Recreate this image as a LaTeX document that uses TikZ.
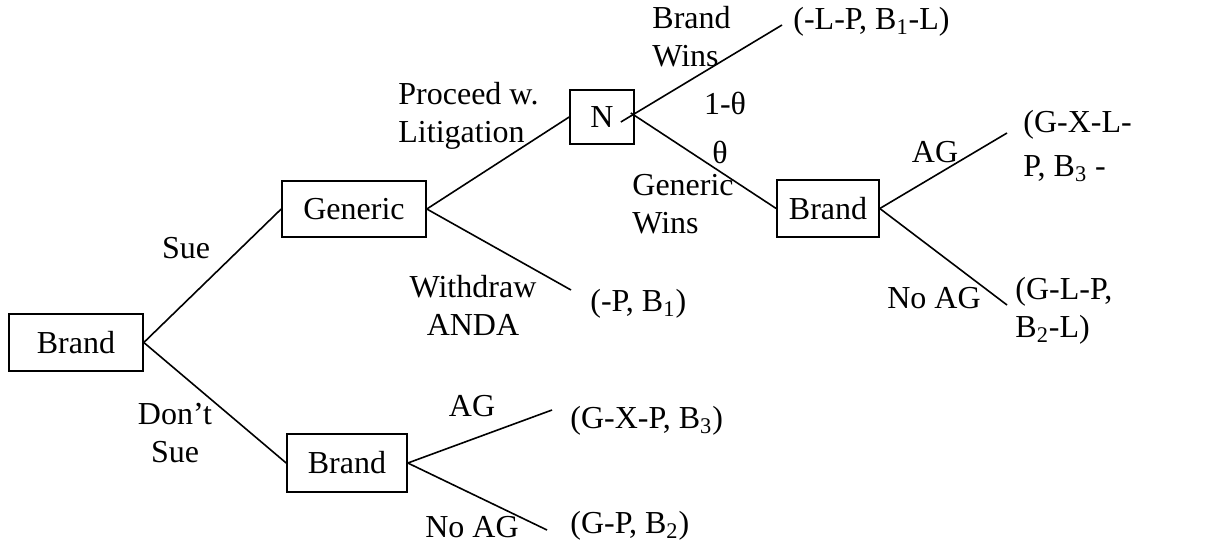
\documentclass[tikz,border=0pt]{standalone}
\usepackage{fontspec}
\setmainfont{Liberation Serif}
\usepackage{tikz}

\begin{document}
\begin{tikzpicture}[x=0.5pt,y=-0.5pt,
  every node/.style={font=\fontsize{16}{19}\selectfont},
  box/.style={draw, rectangle, thick, inner sep=0pt},
  lbl/.style={inner sep=0pt, align=center},
  pay/.style={inner sep=0pt, anchor=west, align=left}]
\useasboundingbox (0,0) rectangle (1218,552);
% decision boxes
\node[box, minimum width=67pt, minimum height=28.5pt] (B0) at (76,342.5) {Brand};
\node[box, minimum width=72pt, minimum height=28pt] (G) at (354,209) {Generic};
\node[box, minimum width=32pt, minimum height=27pt] (N) at (602,117) {N};
\node[box, minimum width=51pt, minimum height=28.5pt] (B2) at (828,208.5) {Brand};
\node[box, minimum width=60pt, minimum height=29pt] (B3) at (347,463) {Brand};
% ends of the branches
\coordinate (eW) at (571,290);
\coordinate (eBW) at (782,25);
\coordinate (eAG) at (1007,133);
\coordinate (eNAG) at (1007,305);
\coordinate (eAG3) at (552,410);
\coordinate (eNAG3) at (547,530);
% payoffs
\node[pay] (pW) at (590,304) {(-P, B\textsubscript{1})};
\node[pay] (pBW) at (793,22) {(-L-P, B\textsubscript{1}-L)};
\node[pay] (pAG) at (1023,146) {(G-X-L-\\[3pt]P, B\textsubscript{3} -};
\node[pay] (pNAG) at (1015,311) {(G-L-P,\\B\textsubscript{2}-L)};
\node[pay] (pAG3) at (570,421) {(G-X-P, B\textsubscript{3})};
\node[pay] (pNAG3) at (570,526) {(G-P, B\textsubscript{2})};
% branch labels
\node[lbl] (sue) at (186,248) {Sue};
\node[lbl] (dsue) at (175,433) {Don't\\Sue};
\node[lbl, anchor=west, align=left] (proc) at (398,116) {Proceed w.\\Litigation};
\node[lbl] (wdr) at (473,305) {Withdraw\\ANDA};
\node[lbl, anchor=west, align=left] (bwin) at (652,37) {Brand\\Wins};
\node[lbl] (pr1) at (725,103) {1-θ};
\node[lbl] (pr2) at (720,152) {θ};
\node[lbl, anchor=west, align=left] (gwin) at (632,204) {Generic\\Wins};
\node[lbl] (ag) at (935,152) {AG};
\node[lbl] (nag) at (934,298) {No AG};
\node[lbl] (ag3) at (472,406) {AG};
\node[lbl] (nag3) at (472,527) {No AG};
% branches
\draw[thick] (B0.east) -- (G.west);
\draw[thick] (B0.east) -- (B3.west);
\draw[thick] (G.east) -- (N.west);
\draw[thick] (G.east) -- (eW);
\draw[thick] ([xshift=-7pt,yshift=-2.5pt]N.east) -- (eBW);
\draw[thick] ([xshift=-2pt,yshift=2pt]N.east) -- (B2.west);
\draw[thick] (B2.east) -- (eAG);
\draw[thick] (B2.east) -- (eNAG);
\draw[thick] (B3.east) -- (eAG3);
\draw[thick] (B3.east) -- (eNAG3);
\end{tikzpicture}
\end{document}
